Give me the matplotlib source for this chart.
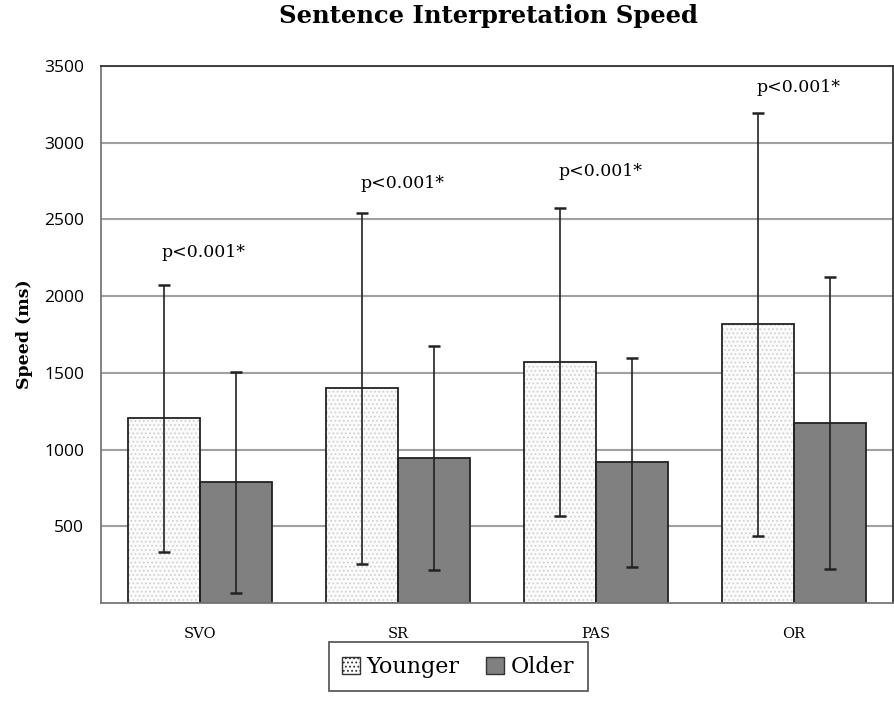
import numpy as np
import matplotlib
matplotlib.use('Agg')
import matplotlib.pyplot as plt

# dados
categorias = ['SVO', 'SR', 'PAS', 'OR']
younger = [1203, 1399, 1569, 1816]
older = [786, 942, 917, 1171]
younger_sd = [873, 1145, 1005, 1378]
older_sd = [720, 730, 680, 953]
p_textos = ['p<0.001*', 'p<0.001*', 'p<0.001*', 'p<0.001*']
p_alturas = [2286, 2735, 2813, 3361]

plt.rcParams['hatch.linewidth'] = 0.8

fig = plt.figure(figsize=(8.94, 7.11), dpi=100)
ax = fig.add_axes([0.113, 0.152, 0.886, 0.755])

x = np.arange(len(categorias))
w = 0.364

# pontilhado claro: barra com hachura cinza clara, depois contorno escuro por cima
ax.bar(x - w / 2, younger, w, color='#fbfbfb', edgecolor='#d2d2d2', linewidth=0,
       hatch='....', zorder=2)
ax.bar(x - w / 2, younger, w, fill=False, edgecolor='#222222', linewidth=1.3, zorder=2.1)
ax.bar(x + w / 2, older, w, color='#808080', edgecolor='#222222', linewidth=1.3, zorder=2)
ax.errorbar(x - w / 2, younger, yerr=younger_sd, fmt='none', ecolor='#222222',
            elinewidth=1.2, capsize=4, capthick=1.8, zorder=3)
ax.errorbar(x + w / 2, older, yerr=older_sd, fmt='none', ecolor='#222222',
            elinewidth=1.2, capsize=4, capthick=1.8, zorder=3)

for i in range(len(categorias)):
    ax.text(x[i] + 0.02, p_alturas[i], p_textos[i], ha='center', va='center',
            fontsize=12.5, family='DejaVu Serif')

ax.set_xlim(-0.5, 3.5)
ax.set_ylim(0, 3500)
ax.set_yticks(np.arange(500, 3501, 500))
ax.yaxis.grid(True, color='#a0a0a0', linewidth=1.5, zorder=0)
ax.set_axisbelow(True)
ax.tick_params(axis='y', length=0, pad=12)
ax.tick_params(axis='x', length=0, pad=17)
ax.set_xticks(x)
ax.set_xticklabels(categorias, family='DejaVu Serif', fontsize=10.5)
for lab in ax.get_yticklabels():
    lab.set_family('Open Sans')
    lab.set_fontsize(12.5)
for s in ax.spines.values():
    s.set_color('#333333')
    s.set_linewidth(1.3)
ax.spines['left'].set_color('#777777')
ax.spines['bottom'].set_color('#777777')

ax.set_ylabel('Speed (ms)', family='DejaVu Serif', fontweight='bold', fontsize=12.5, labelpad=8)
fig.text(0.546, 0.995, 'Sentence Interpretation Speed', family='DejaVu Serif', fontweight='bold',
         fontsize=17.5, ha='center', va='top')

# legenda com patches proprios
from matplotlib.patches import Patch
handles = [Patch(facecolor='#fbfbfb', edgecolor='#333333', hatch='....', label='Younger'),
           Patch(facecolor='#808080', edgecolor='#333333', label='Older')]
leg = ax.legend(handles=handles, loc='upper center', bbox_to_anchor=(0.451, -0.053), ncol=2,
                frameon=True, fancybox=False, edgecolor='#333333',
                prop={'family': 'DejaVu Serif', 'size': 16},
                handlelength=0.8, handleheight=0.8, handletextpad=0.3, columnspacing=1.2,
                borderpad=0.6)
leg.get_frame().set_linewidth(1.3)

fig.savefig('out.png', dpi=100)
